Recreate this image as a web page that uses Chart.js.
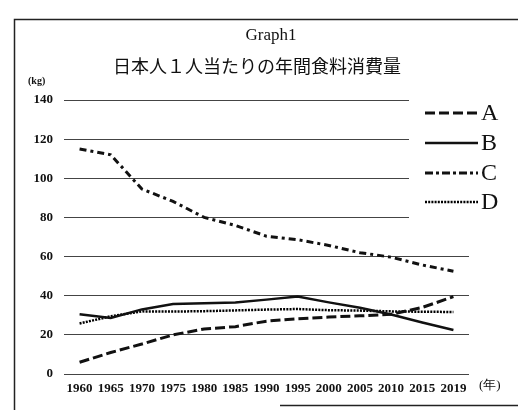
<!DOCTYPE html>
<html><head><meta charset="utf-8">
<script src="https://cdn.jsdelivr.net/npm/chart.js@4"></script>
<style>html,body{margin:0;padding:0;background:#fff;overflow:hidden}</style>
</head><body>
<canvas id="c" width="518" height="410"></canvas>
<script>
// ---- data ----
const years = ['1960','1965','1970','1975','1980','1985','1990','1995','2000','2005','2010','2015','2019'];
const seriesA = [6, 11, 15.3, 20, 23, 24.2, 27, 28.2, 29.1, 29.7, 30.5, 34, 39.5];
const seriesB = [30.5, 28.6, 33, 35.8, 36.1, 36.5, 38, 39.6, 36.6, 33.8, 30.4, 26.3, 22.5];
const seriesC = [115, 112, 94.5, 88.2, 80, 75.9, 70.4, 68.6, 65.7, 62, 59.7, 55.7, 52.5];
const seriesD = [25.8, 29.5, 32, 31.9, 32.1, 32.5, 32.9, 33.2, 32.6, 32.4, 32, 31.8, 31.7];
const seriesNames = ['A', 'B', 'C', 'D'];
const yTicks = [0, 20, 40, 60, 80, 100, 120, 140];
const titleText = 'Graph1';
const subtitleText = '日本人１人当たりの年間食料消費量';
const yUnit = '(kg)';
const xUnit = '(年)';

const serif = "'Liberation Serif','DejaVu Serif',serif";
const ink = '#111';

const frame = {
  id: 'frame',
  beforeDraw(chart) {
    const ctx = chart.ctx;
    ctx.save();
    ctx.fillStyle = '#fff';
    ctx.fillRect(0, 0, chart.width, chart.height);
    ctx.strokeStyle = '#222';
    ctx.lineWidth = 1.5;
    ctx.beginPath();
    ctx.moveTo(14.5, 410); ctx.lineTo(14.5, 19.5); ctx.lineTo(518, 19.5);
    ctx.moveTo(280, 405.5); ctx.lineTo(518, 405.5);
    ctx.stroke();
    ctx.fillStyle = ink;
    ctx.textAlign = 'center';
    ctx.textBaseline = 'middle';
    ctx.font = '17px ' + serif;
    ctx.fillText(titleText, 271, 36);
    ctx.font = "18px 'Noto Sans CJK JP'";
    ctx.fillText(subtitleText, 257, 66);
    ctx.font = 'bold 10px ' + serif;
    ctx.textAlign = 'left';
    ctx.fillText(yUnit, 28, 81);
    ctx.font = '13px ' + serif;
    ctx.fillText(xUnit, 479, 386);
    ctx.restore();
  }
};

const legendBox = {
  id: 'legendBox',
  beforeDatasetsDraw(chart) {
    const ctx = chart.ctx;
    ctx.save();
    ctx.fillStyle = '#fff';
    ctx.fillRect(409, 92, 70, 140);
    const rows = [113, 143, 173, 202];
    chart.data.datasets.forEach((ds, i) => {
      const y = rows[i];
      ctx.strokeStyle = ds.borderColor;
      ctx.lineWidth = ds.borderWidth;
      ctx.setLineDash(ds.legendDash || ds.borderDash || []);
      ctx.beginPath();
      ctx.moveTo(425, y); ctx.lineTo(478, y);
      ctx.stroke();
      ctx.setLineDash([]);
      ctx.fillStyle = ink;
      ctx.font = '24px ' + serif;
      ctx.textAlign = 'left';
      ctx.textBaseline = 'middle';
      ctx.fillText(ds.label, 481, y + 1);
    });
    ctx.restore();
  }
};

new Chart(document.getElementById('c'), {
  type: 'line',
  data: {
    labels: years,
    datasets: [
      { label: seriesNames[0], data: seriesA, borderColor: ink, borderWidth: 3, borderDash: [10, 4], legendDash: [10, 4] },
      { label: seriesNames[1], data: seriesB, borderColor: ink, borderWidth: 2.5 },
      { label: seriesNames[2], data: seriesC, borderColor: ink, borderWidth: 3, borderDash: [7, 4, 3, 4], legendDash: [8, 3, 3, 3] },
      { label: seriesNames[3], data: seriesD, borderColor: '#000', borderWidth: 2.5, borderDash: [2, 1.2] }
    ]
  },
  options: {
    responsive: false,
    animation: false,
    devicePixelRatio: 1,
    layout: { padding: { left: 14, right: 49, top: 100, bottom: 12 } },
    elements: { point: { radius: 0 }, line: { tension: 0, fill: false } },
    plugins: { legend: { display: false }, title: { display: false }, tooltip: { enabled: false } },
    scales: {
      x: {
        offset: true,
        grid: { display: false, drawTicks: false },
        border: { display: false },
        ticks: { color: ink, font: { family: serif, size: 13, weight: 'bold' }, padding: 7, maxRotation: 0, autoSkip: false },
        afterFit(s) { s.height = 24; }
      },
      y: {
        min: 0, max: 140,
        afterBuildTicks(s) { s.ticks = yTicks.map(v => ({ value: v })); },
        grid: { color: '#444', lineWidth: 1, drawTicks: false },
        border: { display: false },
        ticks: { color: ink, font: { family: serif, size: 13, weight: 'bold' }, padding: 11 },
        afterFit(s) { s.width = 50; }
      }
    }
  },
  plugins: [frame, legendBox]
});
</script>
</body></html>
